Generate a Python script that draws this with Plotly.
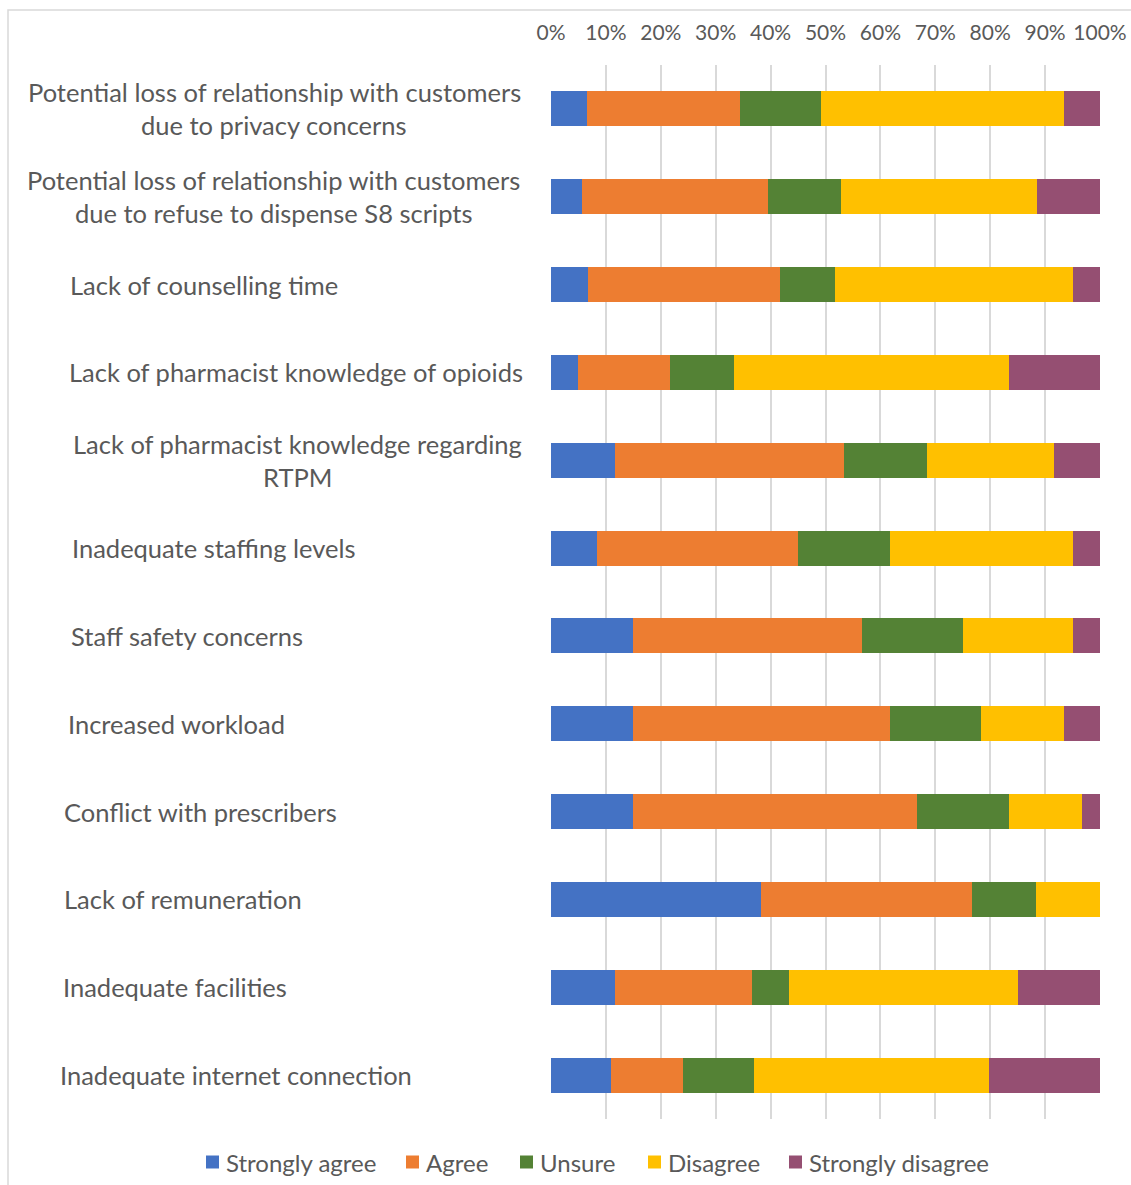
import plotly.graph_objects as go

# Survey items (top to bottom) and the share of responses per answer, in %
categories = [
    "Potential loss of relationship with customers<br>due to privacy concerns",
    "Potential loss of relationship with customers<br>due to refuse to dispense S8 scripts",
    "Lack of counselling time",
    "Lack of pharmacist knowledge of opioids",
    "Lack of pharmacist knowledge regarding<br>RTPM",
    "Inadequate staffing levels",
    "Staff safety concerns",
    "Increased workload",
    "Conflict with prescribers",
    "Lack of remuneration",
    "Inadequate facilities",
    "Inadequate internet connection",
]
strongly_agree = [6.5, 5.6, 6.7, 5.0, 11.7, 8.3, 15.0, 15.0, 15.0, 38.3, 11.7, 10.9]
agree = [27.9, 34.0, 35.0, 16.7, 41.7, 36.7, 41.7, 46.7, 51.7, 38.3, 25.0, 13.1]
unsure = [14.8, 13.2, 10.0, 11.7, 15.0, 16.7, 18.3, 16.7, 16.7, 11.7, 6.7, 13.0]
disagree = [44.3, 35.8, 43.3, 50.0, 23.3, 33.3, 20.0, 15.0, 13.3, 11.7, 41.6, 42.7]
strongly_disagree = [6.5, 11.4, 5.0, 16.6, 8.3, 5.0, 5.0, 6.6, 3.3, 0.0, 15.0, 20.3]

x_ticks = list(range(0, 101, 10))
x_tick_labels = [f"{v}%" for v in x_ticks]

# Left edge (px) of single-line labels / centre (px) of wrapped labels
label_left = [None, None, 68, 67, None, 70, 69, 66, 62, 62, 61, 58]
label_center = [274, 273, None, None, 297, None, None, None, None, None, None, None]

series_names = ["Strongly agree", "Agree", "Unsure", "Disagree", "Strongly disagree"]
series_values = [strongly_agree, agree, unsure, disagree, strongly_disagree]
series_colors = ["#4472C4", "#ED7D31", "#548235", "#FFC000", "#954F72"]

# Legend key positions (px): swatch left edges along the bottom row
legend_swatch_left = [206, 406, 520, 648, 789]
LEGEND_Y = 1162
SWATCH = 13

W, H = 1131, 1185
ML, MR, MT, MB = 551, 31, 65, 66
PW, PH = W - ML - MR, H - MT - MB
FONT = "Lato"
GREY = "#595959"


def px_x(px):
    return (px - ML) / PW


def px_y(py):
    return ((H - MB) - py) / PH


fig = go.Figure()
for name, vals, color in zip(series_names, series_values, series_colors):
    fig.add_trace(go.Bar(
        y=categories, x=vals, name=name, orientation="h",
        marker=dict(color=color, line=dict(width=0)),
        showlegend=False,
    ))

annotations = []
shapes = []

# Category labels on the left
for cat, left, center in zip(categories, label_left, label_center):
    lines = cat.split("<br>")
    if len(lines) == 1:
        annotations.append(dict(
            x=px_x(left), xref="paper", xanchor="left",
            y=cat, yref="y", yanchor="middle",
            text=lines[0], showarrow=False,
            font=dict(family=FONT, size=25.5, color=GREY),
        ))
    else:
        for i, line in enumerate(lines):
            annotations.append(dict(
                x=px_x(center), xref="paper", xanchor="center",
                y=cat, yref="y", yanchor="middle", yshift=16.5 - 33 * i,
                text=line, showarrow=False,
                font=dict(family=FONT, size=25.5, color=GREY),
            ))

# Legend row at the bottom
for name, color, left in zip(series_names, series_colors, legend_swatch_left):
    shapes.append(dict(
        type="rect", xref="paper", yref="paper",
        x0=px_x(left), x1=px_x(left + SWATCH),
        y0=px_y(LEGEND_Y + SWATCH / 2), y1=px_y(LEGEND_Y - SWATCH / 2),
        fillcolor=color, line=dict(width=0),
    ))
    annotations.append(dict(
        x=px_x(left + SWATCH + 5), xref="paper", xanchor="left",
        y=px_y(LEGEND_Y), yref="paper", yanchor="middle",
        text=name, showarrow=False,
        font=dict(family=FONT, size=24, color=GREY),
    ))

# Chart frame
shapes.append(dict(
    type="rect", xref="paper", yref="paper",
    x0=px_x(8), x1=px_x(W + 5), y0=px_y(H + 5), y1=px_y(10),
    line=dict(color="#d9d9d9", width=1.5), layer="below",
))

fig.update_layout(
    width=W, height=H, autosize=False,
    margin=dict(l=ML, r=MR, t=MT, b=MB, pad=0, autoexpand=False),
    barmode="stack", bargap=0.6,
    plot_bgcolor="white", paper_bgcolor="white",
    font=dict(family=FONT, color=GREY),
    showlegend=False,
    xaxis=dict(
        side="top", range=[0, 100], tickvals=x_ticks, ticktext=x_tick_labels,
        showgrid=True, gridcolor="#d9d9d9", gridwidth=2,
        zeroline=False, showline=False, ticks="", automargin=False,
        tickfont=dict(family=FONT, size=21, color=GREY),
        ticklabelstandoff=20,
    ),
    yaxis=dict(
        categoryorder="array", categoryarray=categories, autorange="reversed",
        showticklabels=False, showgrid=False, zeroline=False, showline=False,
        ticks="", automargin=False,
    ),
    annotations=annotations,
    shapes=shapes,
)

fig.write_html("out.html")
